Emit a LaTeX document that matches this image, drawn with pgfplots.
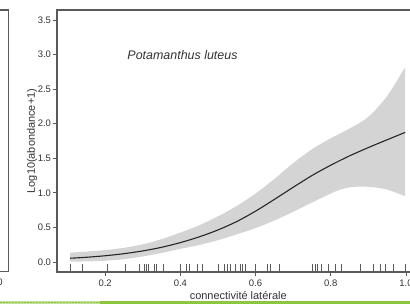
\documentclass[border=0pt]{standalone}
\usepackage{pgfplots}
\pgfplotsset{compat=1.18}
\usepgfplotslibrary{fillbetween}
\usepackage{fontspec}
\setmainfont{Liberation Sans}
\definecolor{band}{HTML}{D4D4D4}
\definecolor{boxc}{HTML}{5A5A5A}
\definecolor{txt}{HTML}{333333}
\definecolor{grn}{HTML}{8CC63E}
\definecolor{grnl}{HTML}{C2E09A}
\begin{document}
\begin{tikzpicture}[x=1bp,y=1bp]
% left partial panel (cut off)
\draw[boxc, line width=1.3bp] (-2,294) -- (8.5,294) -- (8.5,32.5) -- (-2,32.5);
\node[txt, font=\fontsize{9.5}{10}\selectfont] at (-4,22) {1.0};
\begin{axis}[
  at={(57bp,32bp)}, anchor=south west,
  scale only axis, width=362.5bp, height=262bp,
  xmin=0.072, xmax=1.036, ymin=-0.145, ymax=3.645,
  axis line style={boxc, line width=1.3bp},
  tick pos=left, tick align=outside,
  major tick length=4.5bp,
  every tick/.style={boxc, line width=0.8bp},
  xtick={0.2,0.4,0.6,0.8,1.0},
  ytick={0,0.5,1,1.5,2,2.5,3,3.5},
  minor tick num=0,
  /pgf/number format/assume math mode=true,
  xticklabel style={/pgf/number format/fixed, /pgf/number format/fixed zerofill, /pgf/number format/precision=1},
  yticklabel style={/pgf/number format/fixed, /pgf/number format/fixed zerofill, /pgf/number format/precision=1, xshift=2bp},
  ticklabel style={font=\fontsize{9.5}{10}\selectfont, text=txt},
  scaled ticks=false,
  clip=false,
  xlabel={connectivité latérale},
  xlabel style={at={(axis description cs:0.5,0)}, anchor=center, yshift=-24bp, font=\fontsize{11}{12}\selectfont, text=txt},
]
\addplot[name path=U, draw=none, smooth] coordinates {
(0.107,0.135) (0.15,0.15) (0.2,0.172) (0.25,0.205) (0.3,0.255) (0.35,0.33)
(0.4,0.425) (0.45,0.53) (0.5,0.66) (0.55,0.81) (0.6,0.99) (0.65,1.2)
(0.7,1.43) (0.75,1.63) (0.8,1.79) (0.85,1.93) (0.9,2.10) (0.95,2.40) (0.998,2.82)};
\addplot[name path=L, draw=none, smooth] coordinates {
(0.107,0.005) (0.15,0.008) (0.2,0.018) (0.25,0.04) (0.3,0.08) (0.35,0.13)
(0.4,0.19) (0.45,0.245) (0.5,0.315) (0.55,0.40) (0.6,0.49) (0.65,0.60)
(0.7,0.725) (0.75,0.86) (0.8,0.99) (0.83,1.055) (0.86,1.085) (0.89,1.09)
(0.93,1.07) (0.96,1.03) (0.998,0.95)};
\addplot[band, draw=none] fill between[of=U and L];
\addplot[color=black!85, line width=1.1bp, smooth] coordinates {
(0.107,0.054) (0.15,0.068) (0.2,0.090) (0.25,0.120) (0.3,0.160) (0.35,0.212)
(0.4,0.280) (0.45,0.363) (0.5,0.463) (0.55,0.585) (0.6,0.735) (0.65,0.905)
(0.7,1.08) (0.75,1.25) (0.8,1.40) (0.85,1.535) (0.9,1.655) (0.95,1.768) (0.998,1.875)};
% rug
\addplot[quiver={u=0,v=0.116}, -, draw=boxc, line width=0.6bp] table[x index=0, y expr=-0.145] {
x
0.107
0.139
0.205
0.254
0.29
0.305
0.31
0.316
0.33
0.336
0.356
0.40
0.416
0.423
0.445
0.458
0.502
0.516
0.524
0.533
0.546
0.559
0.566
0.572
0.599
0.632
0.639
0.664
0.75
0.759
0.765
0.776
0.794
0.812
0.829
0.878
0.914
0.931
0.945
0.967
0.998
};
\node[anchor=west, text=txt, font=\fontsize{12.5}{13}\selectfont\itshape] at (axis cs:0.25,3.0) {Potamanthus luteus};
\node[rotate=90, text=txt, font=\fontsize{11}{12}\selectfont] at (axis description cs:-0.069,0.5) {Log10(abondance+1)};
\end{axis}
% green bar at bottom
\fill[grn] (0,0) rectangle (410,3);
\fill[grnl] (0,0) rectangle (100,3);
\draw[grn, line width=1.2bp, dash pattern=on 1.5bp off 1.5bp] (0,1.5) -- (100,1.5);
\pgfresetboundingbox
\useasboundingbox (0,0) rectangle (410,304);
\end{tikzpicture}
\end{document}
